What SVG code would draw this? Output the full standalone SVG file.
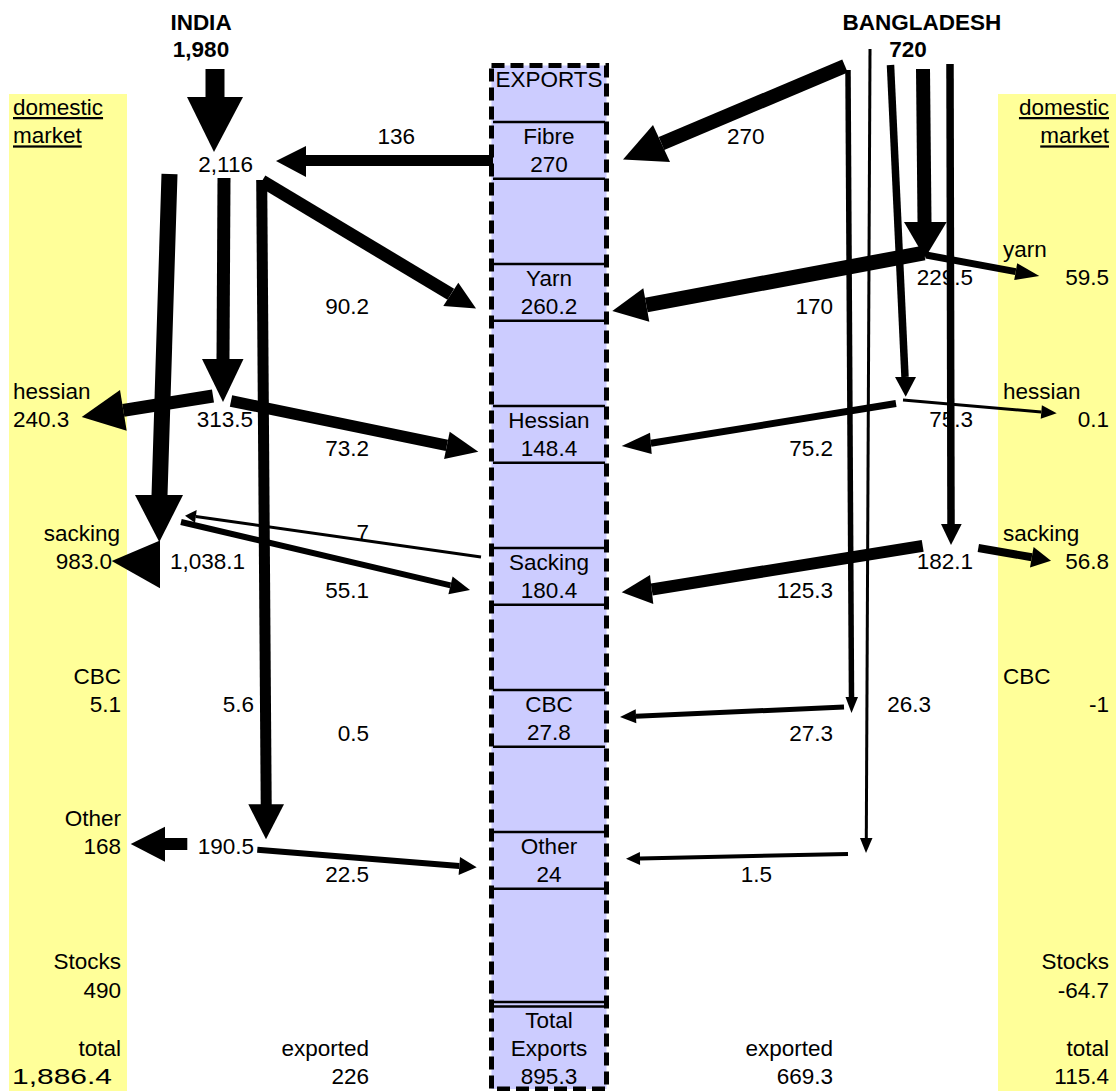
<svg xmlns="http://www.w3.org/2000/svg" width="1116" height="1091" viewBox="0 0 1116 1091">
<style>
text{font-family:"Liberation Sans",Arial,sans-serif;font-size:22.5px;fill:#000}
.b{font-weight:bold}
.e{text-anchor:end}
.m{text-anchor:middle}
.u{text-decoration:underline}
.dom{fill:#FFFF99}
.col{fill:#CCCCFF}
.dash{fill:none;stroke:#000;stroke-width:5;stroke-dasharray:13 6}
.div{stroke:#000;stroke-width:2.5}
#connectors line{stroke:#000;fill:none}
#connectors polygon{fill:#000}
</style>
<rect width="1116" height="1091" fill="#fff"/>
<g id="india-domestic">
<rect class="dom" x="9" y="94" width="118" height="997"/>
<text class="u" x="13" y="115">domestic</text>
<text class="u" x="13" y="143.4">market</text>
<text x="13" y="399">hessian</text>
<text x="13" y="427.4">240.3</text>
<text class="e" x="120" y="541">sacking</text>
<text class="e" x="112" y="569.4">983.0</text>
<text class="e" x="121" y="683.5">CBC</text>
<text class="e" x="121" y="711.8">5.1</text>
<text class="e" x="121" y="825.5">Other</text>
<text class="e" x="121" y="853.6">168</text>
<text class="e" x="121" y="969">Stocks</text>
<text class="e" x="121" y="997.5">490</text>
<text class="e" x="121" y="1056">total</text>
<text x="12" y="1084" textLength="100" lengthAdjust="spacingAndGlyphs">1,886.4</text>
</g>
<g id="bangladesh-domestic">
<rect class="dom" x="998" y="94" width="118" height="997"/>
<text class="e u" x="1109" y="115">domestic</text>
<text class="e u" x="1109" y="143.4">market</text>
<text x="1003" y="257">yarn</text>
<text class="e" x="1109" y="285.4">59.5</text>
<text x="1003" y="399">hessian</text>
<text class="e" x="1109" y="427.4">0.1</text>
<text x="1003" y="541">sacking</text>
<text class="e" x="1109" y="569.4">56.8</text>
<text x="1003" y="683.5">CBC</text>
<text class="e" x="1109" y="711.8">-1</text>
<text class="e" x="1109" y="969">Stocks</text>
<text class="e" x="1109" y="997.5">-64.7</text>
<text class="e" x="1109" y="1056">total</text>
<text class="e" x="1109" y="1084">115.4</text>
</g>
<g id="exports">
<rect class="col" x="491.5" y="65.5" width="115" height="1023.5"/>
<line class="div" x1="493" y1="122" x2="605" y2="122"/>
<line class="div" x1="493" y1="178.8" x2="605" y2="178.8"/>
<line class="div" x1="493" y1="264" x2="605" y2="264"/>
<line class="div" x1="493" y1="320.8" x2="605" y2="320.8"/>
<line class="div" x1="493" y1="406" x2="605" y2="406"/>
<line class="div" x1="493" y1="462.8" x2="605" y2="462.8"/>
<line class="div" x1="493" y1="548" x2="605" y2="548"/>
<line class="div" x1="493" y1="604.8" x2="605" y2="604.8"/>
<line class="div" x1="493" y1="690" x2="605" y2="690"/>
<line class="div" x1="493" y1="746.8" x2="605" y2="746.8"/>
<line class="div" x1="493" y1="832" x2="605" y2="832"/>
<line class="div" x1="493" y1="888.8" x2="605" y2="888.8"/>
<line class="div" x1="493" y1="1002" x2="605" y2="1002"/>
<line class="div" x1="493" y1="1006.5" x2="605" y2="1006.5"/>
<rect class="dash" x="491.5" y="65.5" width="115" height="1023.5"/>
<text class="m" x="549" y="87">EXPORTS</text>
<g id="exp-fibre"><text class="m" x="549" y="144">Fibre</text><text class="m" x="549" y="172.2">270</text></g>
<g id="exp-yarn"><text class="m" x="549" y="286">Yarn</text><text class="m" x="549" y="314.2">260.2</text></g>
<g id="exp-hessian"><text class="m" x="549" y="428">Hessian</text><text class="m" x="549" y="456.2">148.4</text></g>
<g id="exp-sacking"><text class="m" x="549" y="570">Sacking</text><text class="m" x="549" y="598.2">180.4</text></g>
<g id="exp-cbc"><text class="m" x="549" y="712">CBC</text><text class="m" x="549" y="740.2">27.8</text></g>
<g id="exp-other"><text class="m" x="549" y="854">Other</text><text class="m" x="549" y="882.2">24</text></g>
<g id="exp-total"><text class="m" x="549" y="1027.5">Total</text><text class="m" x="549" y="1056">Exports</text><text class="m" x="549" y="1084">895.3</text></g>
</g>
<g id="india">
<text class="b m" x="201" y="29.8">INDIA</text>
<text class="b m" x="201" y="57">1,980</text>
</g>
<g id="bangladesh">
<text class="b m" x="922" y="29.5">BANGLADESH</text>
<text class="b m" x="908" y="57">720</text>
</g>
<g id="india-nodes">
<text class="e" x="253" y="172">2,116</text>
<text class="e" x="253" y="427.4">313.5</text>
<text class="e" x="245" y="569.4">1,038.1</text>
<text class="e" x="254" y="711.8">5.6</text>
<text class="e" x="254" y="853.6">190.5</text>
<text class="e" x="369" y="1056">exported</text>
<text class="e" x="369" y="1084">226</text>
</g>
<g id="bangladesh-nodes">
<text class="e" x="973" y="285.4">229.5</text>
<text class="e" x="973" y="427.4">75.3</text>
<text class="e" x="973" y="569.4">182.1</text>
<text class="e" x="931" y="711.8">26.3</text>
<text class="e" x="833" y="1056">exported</text>
<text class="e" x="833" y="1084">669.3</text>
</g>
<g id="flow-labels">
<text class="e" x="415" y="144">136</text>
<text class="e" x="369" y="314">90.2</text>
<text class="e" x="369" y="456">73.2</text>
<text class="e" x="369" y="540">7</text>
<text class="e" x="369" y="598">55.1</text>
<text class="e" x="369" y="740.5">0.5</text>
<text class="e" x="369" y="882.3">22.5</text>
<text x="727" y="144">270</text>
<text class="e" x="833" y="314">170</text>
<text class="e" x="833" y="456">75.2</text>
<text class="e" x="833" y="598">125.3</text>
<text class="e" x="833" y="740.5">27.3</text>
<text class="e" x="772" y="882.3">1.5</text>
</g>
<g id="connectors">
<line x1="215" y1="69" x2="215" y2="97" stroke-width="19"/><polygon points="187,97 243,97 214,152"/>
<line x1="493" y1="160.5" x2="306" y2="160.5" stroke-width="11"/><polygon points="306,146 306,177 276,161"/>
<line x1="845" y1="66" x2="661.5" y2="143.5" stroke-width="14"/><polygon points="653,125 670,162 623,159.5"/>
<line x1="262" y1="181" x2="450.8" y2="294.3" stroke-width="13"/><polygon points="458.3,282.7 443.3,306 476,308.5"/>
<line x1="224" y1="178" x2="223" y2="359" stroke-width="13"/><polygon points="202,359 243.5,359 223,402"/>
<line x1="169.5" y1="174" x2="159.5" y2="496" stroke-width="16"/><polygon points="135,495 183,495 159.3,542"/>
<line x1="213" y1="396" x2="123.3" y2="410.3" stroke-width="13"/><polygon points="120,390 126.7,430.7 81.7,417"/>
<line x1="231" y1="401" x2="446.9" y2="445.4" stroke-width="11.5"/><polygon points="449.7,431.7 444.1,459.1 478.3,451.7"/>
<line x1="481" y1="557" x2="195.8" y2="516.4" stroke-width="3"/><polygon points="196.7,510 195,522.7 185,515.7"/>
<line x1="181" y1="522" x2="450.5" y2="585.4" stroke-width="6"/><polygon points="452.6,576.6 448.4,594.2 470,590"/>
<polygon points="160,540.5 160,588.3 111.7,561"/>
<line x1="261.7" y1="180" x2="266.2" y2="805" stroke-width="11"/><polygon points="248.3,804.3 284,804.3 266,839.3"/>
<line x1="187.3" y1="844" x2="164" y2="844" stroke-width="12"/><polygon points="165,826.7 165,861.7 130.7,844"/>
<line x1="257.3" y1="849.7" x2="459.3" y2="865.9" stroke-width="6"/><polygon points="460,856.9 458.6,874.9 476.7,867.3"/>
<line x1="923" y1="69" x2="924.5" y2="222" stroke-width="14"/><polygon points="904,222 946.7,222 925,258"/>
<line x1="924" y1="253" x2="646.3" y2="305" stroke-width="15"/><polygon points="643.3,288.3 649.3,321.7 612.3,311"/>
<line x1="926" y1="255" x2="1015.7" y2="271.6" stroke-width="7"/><polygon points="1017.2,263.2 1014.2,280 1039.3,276"/>
<line x1="890.5" y1="65" x2="905" y2="377" stroke-width="7.5"/><polygon points="895,377 916,377 905.7,396.7"/>
<line x1="896" y1="403.5" x2="650.8" y2="443.3" stroke-width="7"/><polygon points="650,432.7 651.7,454 621.7,446"/>
<line x1="903" y1="400" x2="1041.3" y2="412" stroke-width="3"/><polygon points="1041.9,405.3 1040.7,418.7 1056.7,413.3"/>
<line x1="950" y1="64" x2="951" y2="524" stroke-width="7.5"/><polygon points="941,524 961.7,524 951,545"/>
<line x1="922.7" y1="545.8" x2="651.7" y2="589.5" stroke-width="12"/><polygon points="650,575 653.3,604 621.7,592.3"/>
<line x1="978.3" y1="548" x2="1031.8" y2="557.3" stroke-width="8"/><polygon points="1033.6,547 1030,567.6 1051,560.7"/>
<line x1="848" y1="70" x2="851.5" y2="697" stroke-width="5.5"/><polygon points="845.5,697 858,697 851.5,713"/>
<line x1="844" y1="707" x2="636" y2="716.3" stroke-width="5"/><polygon points="635.7,709.3 636.3,723.3 620,717"/>
<line x1="870" y1="49" x2="866.3" y2="838" stroke-width="3"/><polygon points="860,838 872.5,838 866,853"/>
<line x1="848" y1="854" x2="640" y2="858.4" stroke-width="4"/><polygon points="639.9,851.9 640.1,864.9 626,858.7"/>
</g>
</svg>
